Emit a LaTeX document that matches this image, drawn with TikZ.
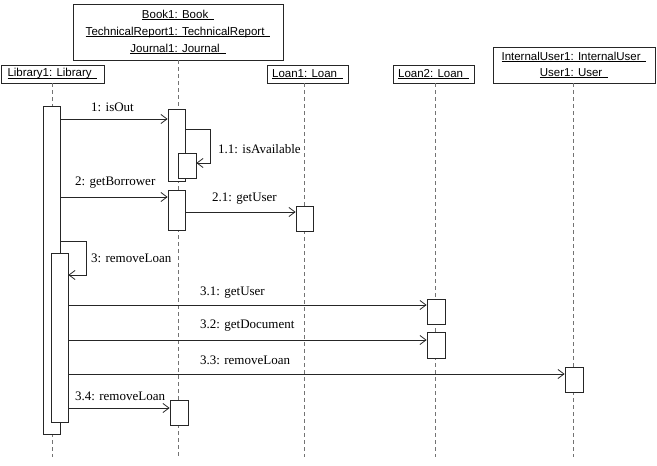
\documentclass[tikz,border=0pt]{standalone}
\usepackage{fontspec}
\setmainfont{Liberation Serif}
\setsansfont{Liberation Sans}
\usetikzlibrary{arrows.meta,fit,calc}
\newcommand{\ulbox}[1]{\setbox0=\hbox{#1\hspace{0.5em}}\rlap{\rule[-1.8pt]{\wd0}{0.7pt}}\box0}
\begin{document}
\begin{tikzpicture}[x=1pt,y=-1pt,
  hdr/.style={draw=black!85, line width=0.8pt, inner sep=0pt, font=\sffamily\fontsize{11.5}{17}\selectfont, align=center},
  act/.style={draw=black!85, fill=white, line width=0.8pt, inner sep=0pt},
  life/.style={draw=black!55, line width=0.9pt, dash pattern=on 4pt off 3pt},
  msg/.style={draw=black!85, line width=0.8pt, -{Straight Barb[length=6pt,width=9pt]}},
  lbl/.style={font=\fontsize{13}{15}\selectfont, inner sep=0pt, anchor=west}
]
\useasboundingbox (0,0) rectangle (657,466);
% headers
\node[hdr, minimum width=210, minimum height=56] (book) at (178,32)
  {\ulbox{Book1: Book}\\ \ulbox{TechnicalReport1: TechnicalReport}\\ \ulbox{Journal1: Journal}};
\node[hdr, minimum width=103, minimum height=18] (lib) at (52.5,74) {\ulbox{Library1: Library}};
\node[hdr, minimum width=81, minimum height=18] (loan1) at (307.5,74) {\ulbox{Loan1: Loan}};
\node[hdr, minimum width=81, minimum height=18] (loan2) at (433.5,74) {\ulbox{Loan2: Loan}};
\node[hdr, minimum width=162, minimum height=36, font=\sffamily\fontsize{11.5}{16}\selectfont] (iu) at (574,65)
  {\ulbox{InternalUser1: InternalUser}\\ \ulbox{User1: User}};
% lifeline ends
\coordinate (libend) at (52,457);
\coordinate (bookend) at (178,457);
\coordinate (loan1end) at (304,457);
\coordinate (loan2end) at (435,457);
\coordinate (iuend) at (573,457);
\draw[life] (lib.south -| libend) -- (libend);
\draw[life] (book.south -| bookend) -- (bookend);
\draw[life] (loan1.south -| loan1end) -- (loan1end);
\draw[life] (loan2.south -| loan2end) -- (loan2end);
\draw[life] (iu.south -| iuend) -- (iuend);
% activations
\node[act, fit={(43,106) (60,434)}] (libA) {};
\node[act, fit={(51,253) (68,422)}] (libB) {};
\node[act, fit={(168,109) (185,181)}] (bookA) {};
\node[act, fit={(178,153) (196,178)}] (bookB) {};
\node[act, fit={(168,190) (185,230)}] (bookC) {};
\node[act, fit={(170,400) (188,425)}] (bookD) {};
\node[act, fit={(296,206) (313,231)}] (loan1A) {};
\node[act, fit={(427,299) (445,324)}] (loan2A) {};
\node[act, fit={(427,332) (445,358)}] (loan2B) {};
\node[act, fit={(565,367) (583,392)}] (iuA) {};
% messages
\draw[msg] (libA.east |- 0,119) -- (bookA.west |- 0,119);
\draw[msg] (bookA.east |- 0,129) -- ++(25,0) |- (bookB.east |- 0,163);
\draw[msg] (libA.east |- 0,197) -- (bookC.west |- 0,197);
\draw[msg] (bookC.east |- 0,212) -- (loan1A.west |- 0,212);
\draw[msg] (libA.east |- 0,241) -- ++(26,0) |- (libB.east |- 0,275);
\draw[msg] (libB.east |- 0,305) -- (loan2A.west |- 0,305);
\draw[msg] (libB.east |- 0,340) -- (loan2B.west |- 0,340);
\draw[msg] (libB.east |- 0,374) -- (iuA.west |- 0,374);
\draw[msg] (libB.east |- 0,408) -- (bookD.west |- 0,408);
% labels
\node[lbl] (l1) at (91,107) {1: isOut};
\node[lbl] (l11) at (218,149) {1.1: isAvailable};
\node[lbl] (l2) at (75,183) {2: getBorrower};
\node[lbl] (l21) at (212,199) {2.1: getUser};
\node[lbl] (l3) at (91,258) {3: removeLoan};
\node[lbl] (l31) at (200,293) {3.1: getUser};
\node[lbl] (l32) at (200,326) {3.2: getDocument};
\node[lbl] (l33) at (200,360) {3.3: removeLoan};
\node[lbl] (l34) at (75,396) {3.4: removeLoan};
\end{tikzpicture}
\end{document}
